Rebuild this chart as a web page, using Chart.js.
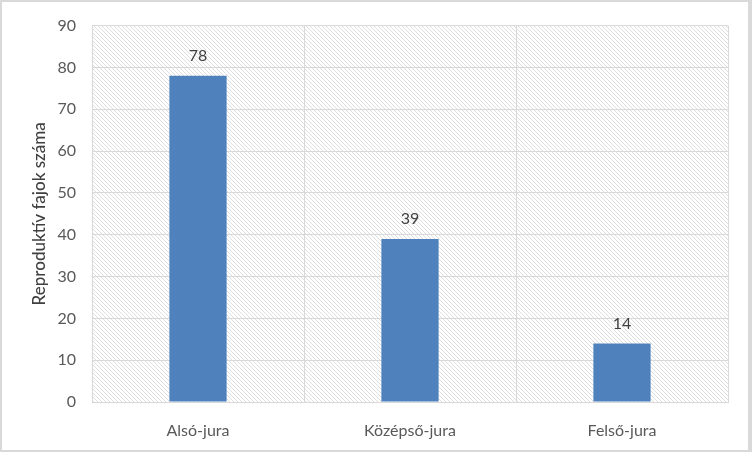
<!DOCTYPE html>
<html>
<head>
<meta charset="utf-8">
<script src="https://cdn.jsdelivr.net/npm/chart.js@4.4.1/dist/chart.umd.min.js"></script>
<style>
  html, body { margin: 0; padding: 0; background: #fff; }
  #wrap { width: 752px; height: 452px; position: relative; }
</style>
</head>
<body>
<div id="wrap"><canvas id="grafico" width="752" height="452"></canvas></div>
<script>
// adatok
const kategoriak = ["Alsó-jura", "Középső-jura", "Felső-jura"];
const fajokSzama = [78, 39, 14];
const tengelyCim = "Reproduktív fajok száma";

const betu = "Lato, 'Liberation Sans', sans-serif";
const szurke = "#595959";

// csíkozott háttér minta
function csikMinta() {
  const c = document.createElement("canvas");
  c.width = 4; c.height = 4;
  const g = c.getContext("2d");
  g.fillStyle = "#fff";
  g.fillRect(0, 0, 4, 4);
  g.strokeStyle = "#dedede";
  g.lineWidth = 1;
  g.beginPath();
  g.moveTo(-1, -1); g.lineTo(5, 5);
  g.moveTo(-1, 3); g.lineTo(1, 5);
  g.moveTo(3, -1); g.lineTo(5, 1);
  g.stroke();
  return g.createPattern(c, "repeat");
}

const hatter = {
  id: "hatter",
  beforeDraw(chart) {
    const { ctx, chartArea: a } = chart;
    ctx.save();
    ctx.fillStyle = "#fff";
    ctx.fillRect(0, 0, chart.width, chart.height);
    ctx.fillStyle = csikMinta();
    ctx.fillRect(a.left, a.top, a.right - a.left, a.bottom - a.top);
    ctx.restore();
  },
  afterDraw(chart) {
    const ctx = chart.ctx;
    ctx.save();
    ctx.strokeStyle = "#d9d9d9";
    ctx.lineWidth = 2;
    ctx.strokeRect(1, 1, chart.width - 2, chart.height - 2);
    ctx.fillStyle = "#d9d9d9";
    ctx.fillRect(chart.width - 4, 0, 4, chart.height);
    ctx.restore();
  }
};

const cimkek = {
  id: "cimkek",
  afterDatasetsDraw(chart) {
    const ctx = chart.ctx;
    const meta = chart.getDatasetMeta(0);
    ctx.save();
    ctx.fillStyle = "#404040";
    ctx.font = "16px " + betu;
    ctx.textAlign = "center";
    ctx.textBaseline = "middle";
    meta.data.forEach((bar, i) => {
      ctx.fillText(fajokSzama[i], bar.x, bar.y - 20);
    });
    ctx.restore();
  }
};

new Chart(document.getElementById("grafico"), {
  type: "bar",
  data: {
    labels: kategoriak,
    datasets: [{
      data: fajokSzama,
      backgroundColor: "#4f81bd",
      categoryPercentage: 1,
      barPercentage: 0.27
    }]
  },
  options: {
    responsive: false,
    animation: false,
    layout: { padding: { top: 23, right: 24, left: 0, bottom: 0 } },
    plugins: { legend: { display: false }, tooltip: { enabled: false } },
    scales: {
      x: {
        afterFit(s) { s.height = 50; },
        grid: { color: "#d9d9d9", drawTicks: false, offset: true },
        border: { color: "#d9d9d9" },
        ticks: { color: szurke, font: { family: betu, size: 16 }, padding: 19 }
      },
      y: {
        min: 0, max: 90,
        afterFit(s) { s.width = 92; },
        grid: { color: "#d9d9d9", drawTicks: false },
        border: { display: false },
        ticks: { stepSize: 10, color: szurke, font: { family: betu, size: 16 }, padding: 16 },
        title: { display: true, text: tengelyCim, color: "#404040", font: { family: betu, size: 17, weight: "500" }, padding: { top: 29, bottom: 0 } }
      }
    }
  },
  plugins: [hatter, cimkek]
});
</script>
</body>
</html>
